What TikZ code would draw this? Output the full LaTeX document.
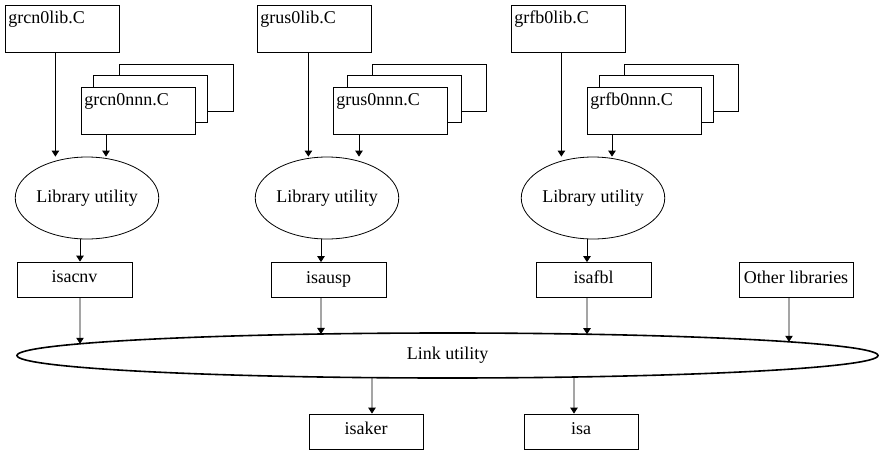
\documentclass[tikz,border=0pt]{standalone}
\usepackage{fontspec}
\setmainfont{Liberation Serif}
\usetikzlibrary{calc,arrows.meta,positioning,shapes.geometric,intersections}
\tikzset{
  srcbox/.style={draw, fill=white, line width=0.8pt, anchor=north west, text width=108pt,
    text height=15pt, text depth=26pt, inner sep=3pt, align=left},
  libutil/.style={draw, ellipse, line width=0.8pt, minimum width=140pt, minimum height=82pt, inner sep=0pt},
  objbox/.style={draw, line width=0.8pt, minimum width=115pt, minimum height=35pt, inner sep=0pt,
    text height=12pt, text depth=6pt},
  arr/.style={line width=0.8pt, -{Triangle[length=6pt,width=7.5pt]}}
}

\begin{document}
\begin{tikzpicture}[x=1pt, y=-1pt, font=\fontsize{18}{21}\selectfont]
\useasboundingbox (0,0) rectangle (879,450);
% sources
\node[srcbox] (cnlib) at (5,5) {grcn0lib.C};
\node[srcbox] (cnback) at (119,64) {};
\node[srcbox] (cnmid) at (93,75) {};
\node[srcbox] (cnnnn) at (81,87) {grcn0nnn.C};
\node[srcbox] (uslib) at (257,5) {grus0lib.C};
\node[srcbox] (usback) at (372,64) {};
\node[srcbox] (usmid) at (347,75) {};
\node[srcbox] (usnnn) at (333,87) {grus0nnn.C};
\node[srcbox] (fblib) at (511,5) {grfb0lib.C};
\node[srcbox] (fbback) at (624,64) {};
\node[srcbox] (fbmid) at (599,75) {};
\node[srcbox] (fbnnn) at (587,87) {grfb0nnn.C};
% library utility
\node[libutil] (cnutil) at (87,198) {Library utility};
\node[libutil] (usutil) at (327,198) {Library utility};
\node[libutil] (fbutil) at (593,198) {Library utility};
% libraries
\node[objbox] (isacnv) at (74.5,279.5) {isacnv};
\node[objbox] (isausp) at (328.5,280) {isausp};
\node[objbox] (isafbl) at (593.5,280) {isafbl};
\node[objbox, minimum width=114pt] (other) at (796,280) {Other libraries};
% link utility and executables
\node[draw, ellipse, line width=1.6pt, minimum width=861pt, minimum height=45pt, inner sep=0pt,
  name path=linkpath] (link) at (447.5,355.5) {Link utility};
\node[objbox, minimum width=114pt] (isaker) at (366,431.5) {isaker};
\node[objbox, minimum width=114pt] (isa) at (581,431.5) {isa};

\draw[arr] ([xshift=-7pt]cnlib.south) -- ([xshift=-7pt]cnlib.south |- cnutil.north);
\draw[arr] ([xshift=25pt]cnnnn.south west) -- ([xshift=25pt]cnnnn.south west |- cnutil.north);
\draw[arr] ([xshift=-6pt]uslib.south) -- ([xshift=-6pt]uslib.south |- usutil.north);
\draw[arr] ([xshift=26pt]usnnn.south west) -- ([xshift=26pt]usnnn.south west |- usutil.north);
\draw[arr] ([xshift=-7pt]fblib.south) -- ([xshift=-7pt]fblib.south |- fbutil.north);
\draw[arr] ([xshift=25pt]fbnnn.south west) -- ([xshift=25pt]fbnnn.south west |- fbutil.north);

\draw[arr] ([xshift=-7pt]cnutil.south) -- ([xshift=-7pt]cnutil.south |- isacnv.north);
\draw[arr] ([xshift=-6pt]usutil.south) -- ([xshift=-6pt]usutil.south |- isausp.north);
\draw[arr] ([xshift=-6pt]fbutil.south) -- ([xshift=-6pt]fbutil.south |- isafbl.north);

\path[name path=cndrop] ([xshift=-7pt]cnutil.south |- isacnv.south) -- ([xshift=-7pt]cnutil.south |- link.center);
\draw[arr, name intersections={of=cndrop and linkpath}] ([xshift=-7pt]cnutil.south |- isacnv.south) -- (intersection-1);
\path[name path=usdrop] ([xshift=-6pt]usutil.south |- isausp.south) -- ([xshift=-6pt]usutil.south |- link.center);
\draw[arr, name intersections={of=usdrop and linkpath}] ([xshift=-6pt]usutil.south |- isausp.south) -- (intersection-1);
\path[name path=fbdrop] ([xshift=-6pt]fbutil.south |- isafbl.south) -- ([xshift=-6pt]fbutil.south |- link.center);
\draw[arr, name intersections={of=fbdrop and linkpath}] ([xshift=-6pt]fbutil.south |- isafbl.south) -- (intersection-1);
\path[name path=otherdrop] ([xshift=-7pt]other.south) -- ([xshift=-7pt]other.south |- link.center);
\draw[arr, name intersections={of=otherdrop and linkpath}] ([xshift=-7pt]other.south) -- (intersection-1);

\path[name path=kerdrop] ([xshift=6pt]isaker.north |- link.center) -- ([xshift=6pt]isaker.north);
\draw[arr, name intersections={of=kerdrop and linkpath}] (intersection-1) -- ([xshift=6pt]isaker.north);
\path[name path=isadrop] ([xshift=-7pt]isa.north |- link.center) -- ([xshift=-7pt]isa.north);
\draw[arr, name intersections={of=isadrop and linkpath}] (intersection-1) -- ([xshift=-7pt]isa.north);
\end{tikzpicture}
\end{document}
